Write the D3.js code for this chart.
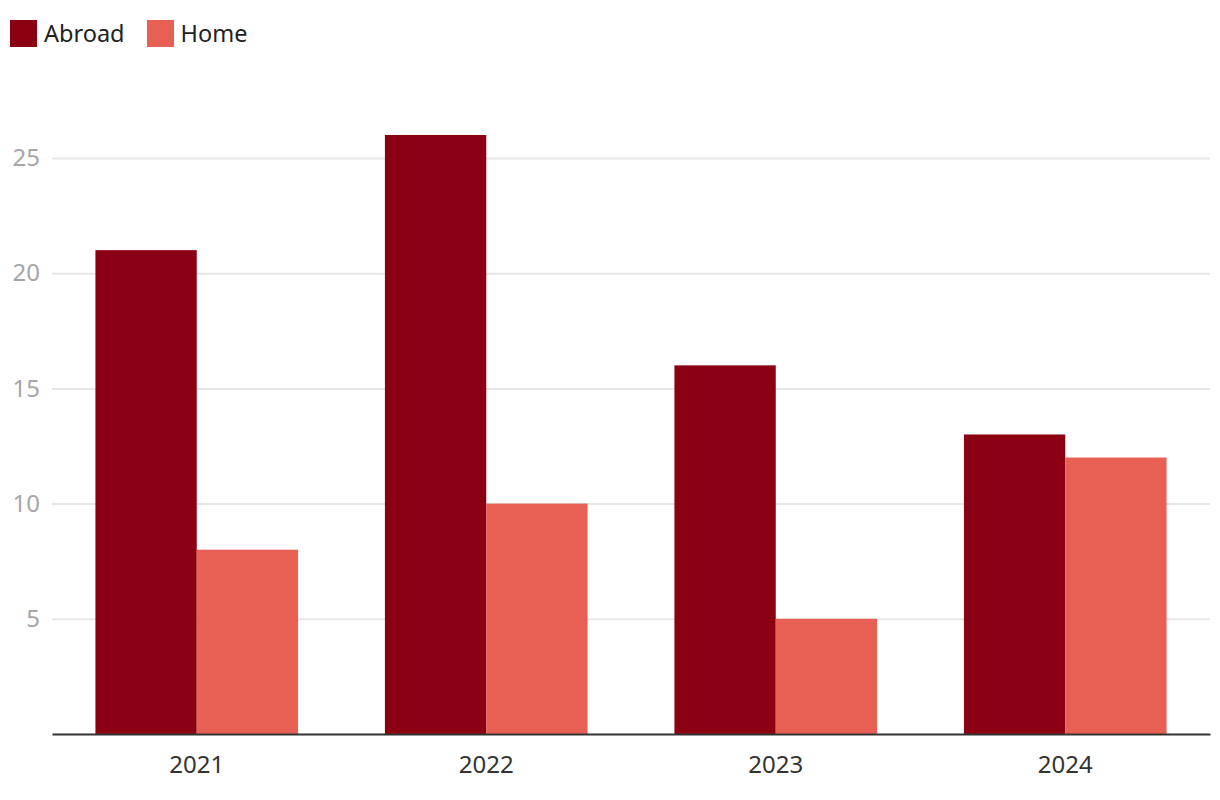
<!DOCTYPE html>
<html>
<head>
<meta charset="utf-8">
<script src="https://cdn.jsdelivr.net/npm/d3@7"></script>
<style>
  body { margin: 0; background: #fff; font-family: "Noto Sans", sans-serif; }
  .legend { position: absolute; left: 10px; top: 17px; display: flex; font-size: 23.5px; color: #222; }
  .legend span { display: inline-flex; align-items: center; margin-right: 22px; }
  .legend i { display: inline-block; width: 27px; height: 27px; margin-right: 7px; }
</style>
</head>
<body>
<div class="legend" id="legend"></div>
<svg id="chart" width="1220" height="800" style="position:absolute;left:0;top:0"></svg>
<script>
const years = ["2021", "2022", "2023", "2024"];
const seriesNames = ["Abroad", "Home"];
const abroad = [21, 26, 16, 13];
const home = [8, 10, 5, 12];
const yTicks = [5, 10, 15, 20, 25];
const colors = ["#8c0013", "#e86054"];

const rows = years.map((y, i) => ({ year: y, Abroad: abroad[i], Home: home[i] }));

d3.select("#legend").selectAll("span")
  .data(seriesNames)
  .join("span")
  .html((d, i) => `<i style="background:${colors[i]}"></i>${d}`);

const svg = d3.select("#chart");

const y = d3.scaleLinear().domain([0, 25]).range([734, 158]);
const x0 = d3.scaleBand().domain(years).range([52, 1210])
  .paddingInner(0.3).paddingOuter(0.15);
const x1 = d3.scaleBand().domain(seriesNames).range([0, x0.bandwidth()]);
const color = d3.scaleOrdinal().domain(seriesNames).range(colors);

/* grid + y labels */
const yAxis = d3.axisLeft(y).tickValues(yTicks).tickSize(-(1210 - 52)).tickPadding(12);
const yg = svg.append("g").attr("transform", "translate(52,0)").call(yAxis);
yg.select(".domain").remove();
yg.selectAll(".tick line").attr("stroke", "#e6e6e6").attr("stroke-width", 2);
yg.selectAll(".tick text")
  .attr("fill", "#a6a6a6")
  .style("font-size", "24px")
  .style("font-family", "'Noto Sans', sans-serif");

/* bars */
svg.append("g")
  .selectAll("g")
  .data(rows)
  .join("g")
  .attr("transform", (d) => `translate(${x0(d.year)},0)`)
  .selectAll("rect")
  .data((d) => seriesNames.map((k) => ({ key: k, value: d[k] })))
  .join("rect")
  .attr("x", (d) => x1(d.key))
  .attr("width", x1.bandwidth())
  .attr("y", (d) => y(d.value))
  .attr("height", (d) => y(0) - y(d.value))
  .attr("fill", (d) => color(d.key));

/* x axis */
const xAxis = d3.axisBottom(x0).tickSize(0).tickPadding(22);
const xg = svg.append("g").attr("transform", `translate(0,${y(0)})`).call(xAxis);
xg.select(".domain").attr("stroke", "#333").attr("stroke-width", 2);
xg.selectAll(".tick text")
  .attr("fill", "#333")
  .style("font-size", "24px")
  .style("font-family", "'Noto Sans', sans-serif");
</script>
</body>
</html>
